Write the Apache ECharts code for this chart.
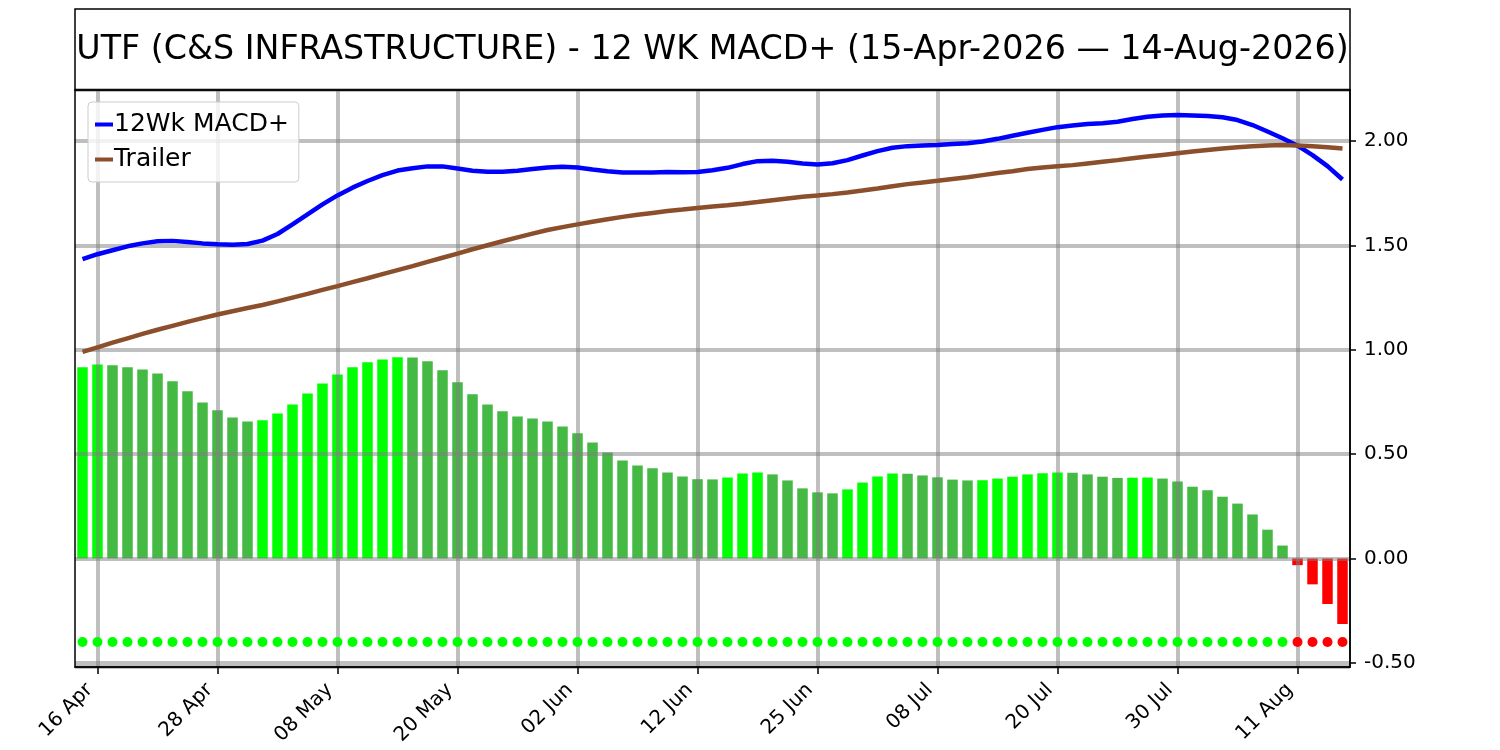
<!DOCTYPE html>
<html>
<head>
<meta charset="utf-8">
<title>UTF 12 WK MACD+</title>
<script src="https://cdn.jsdelivr.net/npm/echarts@6/dist/echarts.min.js"></script>
<style>
  html, body { margin: 0; padding: 0; background: #fff; }
  #chart { width: 1500px; height: 750px; }
</style>
</head>
<body>
<div id="chart"></div>
<script>
// Trading days, 15-Apr-2026 to 14-Aug-2026
var dates = [
    '15 Apr', '16 Apr', '17 Apr', '20 Apr', '21 Apr', '22 Apr', '23 Apr', '24 Apr', '27 Apr', '28 Apr', '29 Apr', '30 Apr',
    '01 May', '04 May', '05 May', '06 May', '07 May', '08 May', '11 May', '12 May', '13 May', '14 May', '15 May',
    '18 May', '19 May', '20 May', '21 May', '22 May', '26 May', '27 May', '28 May', '29 May',
    '01 Jun', '02 Jun', '03 Jun', '04 Jun', '05 Jun', '08 Jun', '09 Jun', '10 Jun', '11 Jun', '12 Jun',
    '15 Jun', '16 Jun', '17 Jun', '18 Jun', '22 Jun', '23 Jun', '24 Jun', '25 Jun', '26 Jun', '29 Jun', '30 Jun',
    '01 Jul', '02 Jul', '06 Jul', '07 Jul', '08 Jul', '09 Jul', '10 Jul', '13 Jul', '14 Jul', '15 Jul', '16 Jul', '17 Jul',
    '20 Jul', '21 Jul', '22 Jul', '23 Jul', '24 Jul', '27 Jul', '28 Jul', '29 Jul', '30 Jul', '31 Jul',
    '03 Aug', '04 Aug', '05 Aug', '06 Aug', '07 Aug', '10 Aug', '11 Aug', '12 Aug', '13 Aug', '14 Aug'
];

// 12Wk MACD+ line
var macd = [
    1.434, 1.458, 1.477, 1.496, 1.510, 1.520, 1.522, 1.517, 1.510, 1.506,
    1.504, 1.507, 1.523, 1.555, 1.601, 1.649, 1.697, 1.740, 1.777, 1.809,
    1.837, 1.859, 1.870, 1.879, 1.879, 1.869, 1.858, 1.853, 1.853, 1.858,
    1.866, 1.874, 1.877, 1.874, 1.864, 1.856, 1.850, 1.850, 1.850, 1.852,
    1.851, 1.852, 1.860, 1.872, 1.890, 1.904, 1.906, 1.901, 1.893, 1.888,
    1.894, 1.909, 1.931, 1.952, 1.968, 1.976, 1.979, 1.982, 1.986, 1.990,
    1.998, 2.011, 2.026, 2.040, 2.054, 2.067, 2.075, 2.082, 2.086, 2.093,
    2.106, 2.117, 2.123, 2.125, 2.123, 2.120, 2.114, 2.101, 2.077, 2.046,
    2.014, 1.978, 1.933, 1.880, 1.816
];

// Trailer line
var trailer = [
    0.990, 1.012, 1.034, 1.055, 1.076, 1.096, 1.115, 1.134, 1.152, 1.169,
    1.185, 1.200, 1.215, 1.232, 1.250, 1.268, 1.287, 1.305, 1.324, 1.343,
    1.363, 1.382, 1.401, 1.421, 1.441, 1.461, 1.482, 1.501, 1.520, 1.539,
    1.557, 1.574, 1.588, 1.601, 1.614, 1.626, 1.637, 1.647, 1.656, 1.665,
    1.672, 1.680, 1.687, 1.693, 1.700, 1.708, 1.717, 1.725, 1.733, 1.739,
    1.746, 1.754, 1.763, 1.773, 1.784, 1.794, 1.802, 1.810, 1.819, 1.827,
    1.837, 1.847, 1.856, 1.866, 1.874, 1.880, 1.885, 1.893, 1.901, 1.909,
    1.918, 1.926, 1.934, 1.942, 1.950, 1.958, 1.965, 1.971, 1.976, 1.979,
    1.981, 1.979, 1.976, 1.971, 1.965
];

// Histogram (MACD+ minus Trailer)
var histogram = [
    0.917, 0.930, 0.926, 0.917, 0.906, 0.887, 0.849, 0.801, 0.748, 0.710,
    0.676, 0.657, 0.662, 0.695, 0.738, 0.791, 0.839, 0.882, 0.916, 0.940,
    0.954, 0.964, 0.963, 0.945, 0.902, 0.844, 0.787, 0.738, 0.705, 0.681,
    0.671, 0.657, 0.633, 0.600, 0.556, 0.508, 0.470, 0.446, 0.432, 0.412,
    0.393, 0.380, 0.379, 0.388, 0.407, 0.412, 0.403, 0.374, 0.336, 0.317,
    0.312, 0.331, 0.364, 0.393, 0.407, 0.406, 0.398, 0.389, 0.378, 0.374,
    0.375, 0.383, 0.392, 0.403, 0.408, 0.412, 0.411, 0.403, 0.392, 0.386,
    0.387, 0.388, 0.383, 0.369, 0.344, 0.327, 0.296, 0.263, 0.211, 0.138,
    0.062, -0.032, -0.124, -0.218, -0.314
];

// level of the signal dots
var dotLevel = -0.4;

var yRange = { min: -0.52, max: 2.245 };
var labelStep = 8;      // one date label every 8 trading days
var labelOffset = 1;    // first label on 16 Apr

var titleText = 'UTF (C&S INFRASTRUCTURE) - 12 WK MACD+ (15-Apr-2026 \u2014 14-Aug-2026)';

var FONT = 'DejaVu Sans';
var GRID_LINE = 'rgba(128,128,128,0.5)';

function showTick(index) {
    return index % labelStep === labelOffset;
}

function barColor(i) {
    var v = histogram[i];
    if (v < 0) return '#ff0000';
    if (i === 0 || v > histogram[i - 1]) return '#00ff00';
    return '#44b944';
}

var dots = histogram.map(function () { return dotLevel; });

var chart = echarts.init(document.getElementById('chart'), null, { renderer: 'canvas' });

var option = {
    animation: false,
    backgroundColor: '#ffffff',
    textStyle: { fontFamily: FONT },
    graphic: [
        {
            type: 'rect',
            shape: { x: 75, y: 9, width: 1275, height: 81 },
            style: { fill: 'none', stroke: '#000', lineWidth: 1.5 },
            z: 10
        },
        {
            type: 'text',
            x: 712.5,
            y: 50,
            style: {
                text: titleText,
                font: '33.3px "DejaVu Sans"',
                fill: '#000',
                align: 'center',
                verticalAlign: 'middle',
                textAlign: 'center',
                textVerticalAlign: 'middle'
            },
            z: 10
        }
    ],
    legend: {
        data: ['12Wk MACD+', 'Trailer'],
        orient: 'vertical',
        left: 88,
        top: 102,
        padding: [5, 10, 5, 7],
        itemGap: 0,
        itemWidth: 18,
        itemHeight: 4,
        icon: 'rect',
        backgroundColor: 'rgba(255,255,255,0.8)',
        borderColor: '#cccccc',
        borderWidth: 1,
        borderRadius: 4,
        textStyle: { fontFamily: FONT, fontSize: 25, color: '#000', lineHeight: 35, padding: [0, 0, 0, -4] },
        z: 10
    },
    grid: {
        left: 75,
        right: 150,
        top: 90,
        bottom: 83,
        show: true,
        borderColor: '#000',
        borderWidth: 1.5,
        backgroundColor: 'transparent',
        z: 3
    },
    xAxis: {
        type: 'category',
        data: dates,
        boundaryGap: true,
        z: 2,
        axisLine: { show: true, onZero: false, lineStyle: { color: '#000', width: 1.5 } },
        axisTick: { show: true, interval: function (i) { return showTick(i); }, alignWithLabel: true, length: 7, lineStyle: { color: '#000', width: 1.5 } },
        axisLabel: {
            interval: function (i) { return showTick(i); },
            rotate: 45,
            margin: 12,
            padding: [0, 11, 0, 0],
            fontFamily: FONT,
            fontSize: 20,
            color: '#000'
        },
        splitLine: {
            show: true,
            interval: function (i) { return showTick(i); },
            alignWithLabel: true,
            lineStyle: { color: GRID_LINE, width: 4 }
        }
    },
    yAxis: {
        type: 'value',
        position: 'right',
        min: yRange.min,
        max: yRange.max,
        minInterval: 0.5,
        maxInterval: 0.5,
        z: 2,
        axisLine: { show: true, lineStyle: { color: '#000', width: 1.5 } },
        axisTick: { show: true, inside: false, length: 6, lineStyle: { color: '#000', width: 1.5 } },
        axisLabel: {
            showMinLabel: false,
            showMaxLabel: false,
            margin: 14,
            fontFamily: FONT,
            fontSize: 20,
            color: '#000',
            formatter: function (v) { return v.toFixed(2); }
        },
        splitLine: { show: true, lineStyle: { color: GRID_LINE, width: 4 } }
    },
    series: [
        {
            name: 'Histogram',
            type: 'bar',
            data: histogram,
            barWidth: '70%',
            z: 1,
            itemStyle: { color: function (p) { return barColor(p.dataIndex); } }
        },
        {
            name: 'Signal',
            type: 'scatter',
            data: dots,
            symbol: 'circle',
            symbolSize: 10,
            z: 4,
            itemStyle: {
                opacity: 1,
                color: function (p) { return histogram[p.dataIndex] < 0 ? '#ff0000' : '#00ff00'; }
            }
        },
        {
            name: '12Wk MACD+',
            type: 'line',
            data: macd,
            showSymbol: false,
            symbol: 'none',
            smooth: false,
            z: 4,
            itemStyle: { color: '#0000ff' },
            lineStyle: { color: '#0000ff', width: 4.5 }
        },
        {
            name: 'Trailer',
            type: 'line',
            data: trailer,
            showSymbol: false,
            symbol: 'none',
            smooth: false,
            z: 4,
            itemStyle: { color: '#8b4f2b' },
            lineStyle: { color: '#8b4f2b', width: 4.5 }
        }
    ]
};

chart.setOption(option);
</script>
</body>
</html>
